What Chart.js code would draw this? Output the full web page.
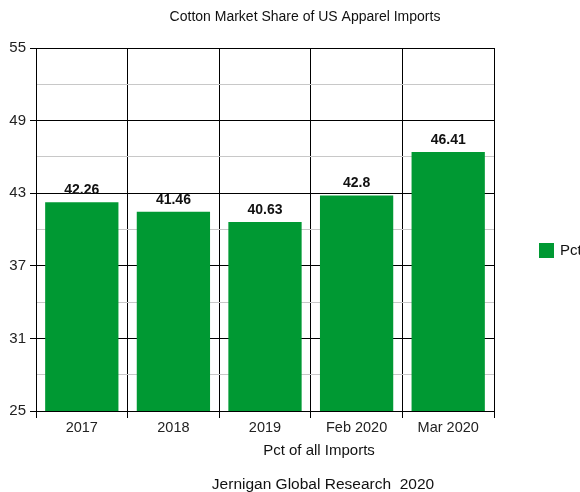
<!DOCTYPE html>
<html>
<head>
<meta charset="utf-8">
<title>Cotton Market Share of US Apparel Imports</title>
<script src="https://cdn.jsdelivr.net/npm/chart.js@4/dist/chart.umd.min.js"></script>
<style>
  html, body { margin: 0; padding: 0; background: #fff; }
  #wrap { width: 580px; height: 492px; }
</style>
</head>
<body>
<div id="wrap"><canvas id="chart-1" width="580" height="492"></canvas></div>
<script>
var periods = ["2017", "2018", "2019", "Feb 2020", "Mar 2020"];
var pctValues = [42.26, 41.46, 40.63, 42.8, 46.41];
var yMin = 25;
var yMax = 55;
var yStep = 3;      // every other line is a labelled tick
var seriesName = "Pct";

var FONT = "'Liberation Sans', Arial, sans-serif";
var GREEN = "#009933";

function isMajor(v) {
  return (v - yMin) % (yStep * 2) === 0;
}

// value labels, titles and the little legend on the right
var textPlugin = {
  id: "texts",
  afterDatasetsDraw: function (chart) {
    var ctx = chart.ctx;
    var meta = chart.getDatasetMeta(0);
    ctx.save();
    ctx.fillStyle = "#111";
    ctx.font = "bold 14px " + FONT;
    ctx.textAlign = "center";
    ctx.textBaseline = "bottom";
    meta.data.forEach(function (bar, i) {
      ctx.fillText(String(pctValues[i]), bar.x, bar.y - 5);
    });
    ctx.restore();
  },
  afterDraw: function (chart) {
    var ctx = chart.ctx;
    ctx.save();
    ctx.fillStyle = "#111";
    ctx.textBaseline = "middle";
    ctx.textAlign = "center";
    ctx.font = "14px " + FONT;
    ctx.fillText("Cotton Market Share of US Apparel Imports", 305, 17);
    ctx.font = "15px " + FONT;
    ctx.fillText("Pct of all Imports", 319, 451);
    ctx.font = "15.5px " + FONT;
    ctx.fillText("Jernigan Global Research  2020", 323, 485);

    ctx.fillStyle = GREEN;
    ctx.fillRect(539, 243, 15, 15);
    ctx.fillStyle = "#111";
    ctx.textAlign = "left";
    ctx.font = "15px " + FONT;
    ctx.fillText(seriesName, 560, 251);
    ctx.restore();
  }
};

var myChart1 = new Chart(document.getElementById("chart-1"), {
  type: "bar",
  data: {
    labels: periods,
    datasets: [{
      label: seriesName,
      data: pctValues,
      backgroundColor: GREEN,
      borderWidth: 0,
      categoryPercentage: 1.0,
      barPercentage: 0.8
    }]
  },
  options: {
    responsive: false,
    animation: false,
    layout: {
      padding: { top: 48, right: 86, bottom: 0, left: 0 }
    },
    plugins: {
      legend: { display: false },
      title: { display: false },
      tooltip: { enabled: false }
    },
    scales: {
      x: {
        grid: {
          color: "#000",
          offset: true,
          tickLength: 7
        },
        border: { color: "#000" },
        ticks: {
          color: "#222",
          padding: 1,
          font: { family: FONT, size: 14.5 }
        },
        afterFit: function (scale) { scale.height = 81; }
      },
      y: {
        min: yMin,
        max: yMax,
        grid: {
          color: function (c) { return isMajor(c.tick.value) ? "#000" : "#c8c8c8"; },
          tickColor: function (c) { return isMajor(c.tick.value) ? "#000" : "rgba(0,0,0,0)"; },
          tickLength: 6
        },
        border: { color: "#000" },
        ticks: {
          stepSize: yStep,
          color: "#222",
          padding: 4,
          font: { family: FONT, size: 15 },
          callback: function (v) { return isMajor(v) ? String(v) : ""; }
        },
        afterFit: function (scale) { scale.width = 36; }
      }
    }
  },
  plugins: [textPlugin]
});
</script>
</body>
</html>
